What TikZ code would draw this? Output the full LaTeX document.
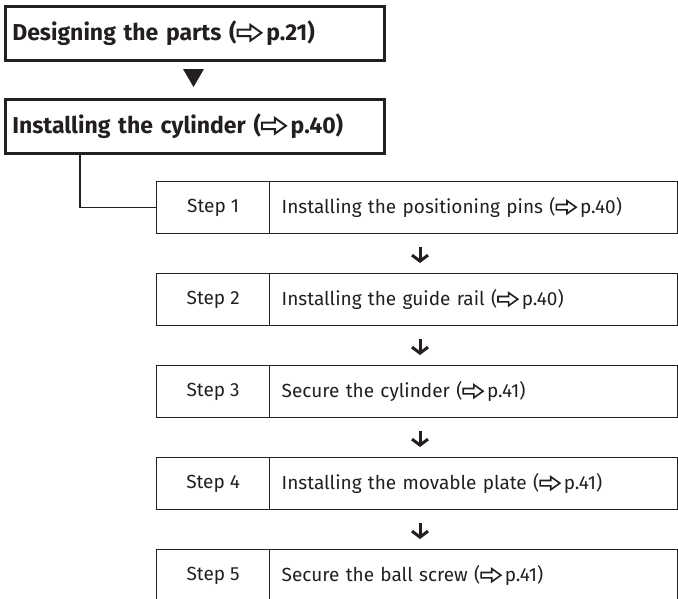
\documentclass[tikz,border=0pt]{standalone}
\usepackage{fontspec}
\setmainfont{Fira Sans}
\usetikzlibrary{arrows.meta,calc}
\definecolor{ink}{HTML}{231F20}
\newcommand{\myarr}{\tikz[baseline=0pt,x=1em,y=1em,line width=0.085em,line join=miter,miter limit=5]
  \draw[ink] (0.04,0.2)--(0.6,0.2)--(0.6,0.0)--(1.08,0.34)--(0.6,0.68)--(0.6,0.48)--(0.04,0.48)--cycle;}
\begin{document}
\begin{tikzpicture}[x=1pt,y=-1pt,
  headbox/.style={draw=ink, line width=2.6pt, text=ink, anchor=north west,
    minimum width=379pt, minimum height=54pt, text width=365pt, inner xsep=7pt,
    align=left, font=\fontsize{23}{27}\selectfont\bfseries},
  steplabel/.style={draw=ink, line width=1.3pt, text=ink, anchor=north west,
    minimum width=113pt, minimum height=52pt, inner sep=0pt,
    font=\fontsize{19}{23}\selectfont},
  steptext/.style={draw=ink, line width=1.3pt, text=ink, anchor=north west,
    minimum width=408pt, minimum height=52pt, text width=384pt, inner xsep=12pt,
    align=left, font=\fontsize{19}{23}\selectfont},
  link/.style={draw=ink, line width=1.3pt},
  downarr/.style={draw=ink, line width=3pt, -{Straight Barb[length=6pt,width=16pt]}}
]
\useasboundingbox (0,0) rectangle (678,598);
\clip (0,0) rectangle (678,598);

\node[headbox] (b1) at (4,5) {Designing the parts (\myarr\,p.21)};
\node[headbox] (b2) at (4,98) {Installing the cylinder (\myarr\,p.40)};
\fill[ink] (183,69) -- (204,69) -- (193.5,87) -- cycle;

\coordinate (conn) at (80,0);
\coordinate (axis) at (420,0);

\foreach \i/\t [count=\k from 0] in {1/Installing the positioning pins (\myarr\,p.40),
  2/Installing the guide rail (\myarr\,p.40),
  3/Secure the cylinder (\myarr\,p.41),
  4/Installing the movable plate (\myarr\,p.41),
  5/Secure the ball screw (\myarr\,p.41)}{
  \node[steplabel] (s\i l) at (156,181+92*\k) {Step \i};
  \node[steptext] (s\i t) at (269,181+92*\k) {\t};
}

\draw[link] (b2.south -| conn) |- (s1l.west);

\foreach \a/\b in {1/2,2/3,3/4,4/5}{
  \draw[downarr, shorten <=13pt, shorten >=10pt] (s\a t.south -| axis) -- (s\b t.north -| axis);
}
\end{tikzpicture}
\end{document}
